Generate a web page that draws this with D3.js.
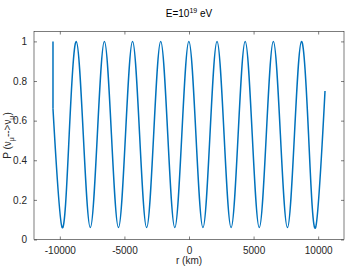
<!DOCTYPE html>
<html>
<head>
<meta charset="utf-8">
<script src="https://cdn.jsdelivr.net/npm/d3@7"></script>
<style>
  body { margin: 0; background: #fff; }
  svg { display: block; font-family: "Liberation Sans", Arial, sans-serif; }
</style>
</head>
<body>
<div id="chart"></div>
<script>
// r (km) and oscillation probability
const rVals = [-10530, -10530, -9820, -9275, -8730, -8185, -7640, -7095, -6550, -6005,
  -5460, -4915, -4370, -3825, -3280, -2735, -2190, -1645, -1100, -555,
  -10, 535, 1080, 1625, 2170, 2715, 3260, 3805, 4350, 4895,
  5440, 5985, 6530, 7075, 7620, 8165, 8710, 9255, 9800, 10530];
const pVals = [1, 0.66, 0.06, 0.53, 1, 0.53, 0.06, 0.53, 1, 0.53,
  0.06, 0.53, 1, 0.53, 0.06, 0.53, 1, 0.53, 0.06, 0.53,
  1, 0.53, 0.06, 0.53, 1, 0.53, 0.06, 0.53, 1, 0.53,
  0.06, 0.53, 1, 0.53, 0.06, 0.53, 1, 0.53, 0.06, 0.75];
const xTicks = [-10000, -5000, 0, 5000, 10000];
const yTicks = [0, 0.2, 0.4, 0.6, 0.8, 1];

const W = 356, H = 267;
const margin = { top: 31.5, right: 12, bottom: 27.5, left: 34 };
const width = W - margin.left - margin.right;
const height = H - margin.top - margin.bottom;
const axisColor = "#262626";

const x = d3.scaleLinear().domain([-12000, 12000]).range([0, width]);
const y = d3.scaleLinear().domain([0, 1.05]).range([height, 0]);

const svg = d3.select("#chart").append("svg")
  .attr("width", W)
  .attr("height", H);

const g = svg.append("g")
  .attr("transform", "translate(" + margin.left + "," + margin.top + ")");

const data = rVals.map((r, i) => ({ r: r, p: pVals[i] }));

// axes, MATLAB style: inward ticks mirrored on all four sides
const fmt = d => String(d);
const tk = 3;

g.append("g")
  .attr("transform", "translate(0," + height + ")")
  .call(d3.axisBottom(x).tickValues(xTicks).tickFormat(fmt).tickSizeInner(-tk).tickSizeOuter(0).tickPadding(7))
  .call(a => a.select(".domain").remove());

g.append("g")
  .call(d3.axisTop(x).tickValues(xTicks).tickFormat("").tickSizeInner(-tk).tickSizeOuter(0))
  .call(a => a.select(".domain").remove());

g.append("g")
  .call(d3.axisLeft(y).tickValues(yTicks).tickFormat(fmt).tickSizeInner(-tk).tickSizeOuter(0).tickPadding(7))
  .call(a => a.select(".domain").remove());

g.append("g")
  .attr("transform", "translate(" + width + ",0)")
  .call(d3.axisRight(y).tickValues(yTicks).tickFormat("").tickSizeInner(-tk).tickSizeOuter(0))
  .call(a => a.select(".domain").remove());

g.selectAll(".tick line").attr("stroke", axisColor).attr("stroke-width", 0.6);
g.selectAll(".tick text").attr("fill", axisColor).style("font-size", "10px")
  .style("font-family", '"Liberation Sans", Arial, sans-serif');

g.append("rect")
  .attr("width", width)
  .attr("height", height)
  .attr("fill", "none")
  .attr("stroke", axisColor)
  .attr("stroke-width", 0.6);

// the curve: first a straight drop, then the oscillation
g.append("path")
  .datum(data.slice(0, 2))
  .attr("fill", "none")
  .attr("stroke", "#0072BD")
  .attr("stroke-width", 1.5)
  .attr("d", d3.line().x(d => x(d.r)).y(d => y(d.p)));

g.append("path")
  .datum(data.slice(1))
  .attr("fill", "none")
  .attr("stroke", "#0072BD")
  .attr("stroke-width", 1.5)
  .attr("d", d3.line().curve(d3.curveNatural).x(d => x(d.r)).y(d => y(d.p)));

// title
const title = svg.append("text")
  .attr("x", margin.left + width / 2)
  .attr("y", 17)
  .attr("text-anchor", "middle")
  .attr("fill", "#000")
  .style("font-size", "10px");
title.append("tspan").text("E=10");
title.append("tspan").attr("dy", -4).style("font-size", "7px").text("19");
title.append("tspan").attr("dy", 4).text(" eV");

// x label
svg.append("text")
  .attr("x", margin.left + width / 2)
  .attr("y", 264)
  .attr("text-anchor", "middle")
  .attr("fill", axisColor)
  .style("font-size", "10px")
  .text("r (km)");

// y label
const yl = svg.append("text")
  .attr("transform", "translate(11," + (margin.top + height / 2) + ") rotate(-90)")
  .attr("text-anchor", "middle")
  .attr("fill", axisColor)
  .style("font-size", "10px");
yl.append("tspan").text("P (ν");
yl.append("tspan").attr("dy", 2.5).style("font-size", "7px").text("μ");
yl.append("tspan").attr("dy", -2.5).text("-->ν");
yl.append("tspan").attr("dy", 2.5).style("font-size", "7px").text("μ");
yl.append("tspan").attr("dy", -2.5).text(")");
</script>
</body>
</html>
